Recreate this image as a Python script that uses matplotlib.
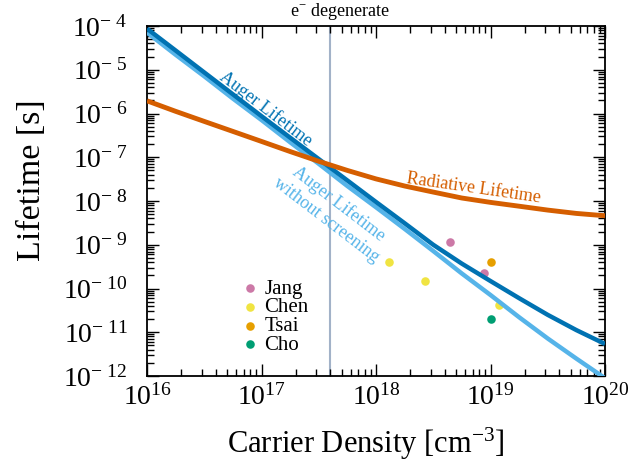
import numpy as np
import matplotlib
matplotlib.use('Agg')
import matplotlib.pyplot as plt
from matplotlib.ticker import FixedLocator, LogLocator, NullFormatter

plt.rcParams['font.family'] = ['Liberation Serif', 'DejaVu Serif']
plt.rcParams['mathtext.fontset'] = 'custom'
plt.rcParams['mathtext.rm'] = 'Liberation Serif'
plt.rcParams['mathtext.it'] = 'Liberation Serif:italic'

# carrier density grid [cm^-3]
density = [1e16, 1.78e16, 3.16e16, 5.62e16, 1e17, 1.78e17, 3.16e17, 5.62e17,
           1e18, 1.78e18, 3.16e18, 5.62e18, 1e19, 1.78e19, 3.16e19, 5.62e19, 1e20]

# lifetimes [s]
auger = [8.7e-5, 2.75e-5, 8.7e-6, 2.75e-6, 8.7e-7, 2.8e-7, 9.1e-8, 2.95e-8,
         9.5e-9, 3.1e-9, 1.0e-9, 3.7e-10, 1.48e-10, 6.0e-11, 2.5e-11, 1.12e-11, 5.4e-12]
auger_unscreened = [7.1e-5, 2.2e-5, 7.1e-6, 2.2e-6, 7.1e-7, 2.2e-7, 7.1e-8, 2.2e-8,
                    7.2e-9, 2.3e-9, 7.2e-10, 2.2e-10, 7.1e-11, 2.2e-11, 7.2e-12, 2.5e-12, 8.9e-13]
radiative = [1.95e-6, 1.12e-6, 6.6e-7, 3.9e-7, 2.3e-7, 1.35e-7, 8.1e-8, 5.0e-8,
             3.2e-8, 2.2e-8, 1.6e-8, 1.17e-8, 9.3e-9, 7.6e-9, 6.2e-9, 5.2e-9, 4.6e-9]

# measured points
jang_n, jang_t = [4.4e18, 8.8e18], [1.17e-9, 2.3e-10]
chen_n, chen_t = [1.3e18, 2.7e18, 1.19e19], [4.1e-10, 1.5e-10, 4.2e-11]
tsai_n, tsai_t = [1.0e19], [4.0e-10]
cho_n, cho_t = [1.0e19], [2.0e-11]

degenerate_n = 4e17

c_auger = '#0072B2'
c_unscr = '#56B4E9'
c_rad = '#D55E00'

fig = plt.figure(figsize=(6.29, 4.70), dpi=100)
ax = fig.add_axes([147/629, 1-376/470, 458/629, 350/470])

ax.axvline(degenerate_n, color='#A2B2C8', lw=1.5, zorder=1)

ms = 38
ax.scatter(jang_n, jang_t, s=ms, color='#CC79A7', lw=0, label='Jang', zorder=2)
ax.scatter(chen_n, chen_t, s=ms, color='#F0E442', lw=0, label='Chen', zorder=2)
ax.scatter(tsai_n, tsai_t, s=ms, color='#E69F00', lw=0, label='Tsai', zorder=2)
ax.scatter(cho_n, cho_t, s=ms, color='#009E73', lw=0, label='Cho', zorder=2)

ax.plot(density, auger_unscreened, color=c_unscr, lw=3.2, zorder=3, solid_capstyle='butt')
ax.plot(density, auger, color=c_auger, lw=3.2, zorder=4, solid_capstyle='butt')
ax.plot(density, radiative, color=c_rad, lw=3.5, zorder=5, solid_capstyle='butt')

ax.set_xscale('log')
ax.set_yscale('log')
ax.set_xlim(1e16, 1e20)
ax.set_ylim(1e-12, 1e-4)

ax.xaxis.set_major_locator(FixedLocator([1e16, 1e17, 1e18, 1e19, 1e20]))
ax.set_xticklabels([r'$10^{%d}$' % k for k in range(16, 21)])
ax.yaxis.set_major_locator(FixedLocator([10.0**-k for k in range(4, 13)]))
ax.set_yticklabels([r'$10^{-\ %d}$' % k for k in range(4, 13)])
ax.xaxis.set_minor_locator(LogLocator(base=10, subs=np.arange(2, 10), numticks=20))
ax.yaxis.set_minor_locator(LogLocator(base=10, subs=np.arange(2, 10), numticks=20))
ax.xaxis.set_minor_formatter(NullFormatter())
ax.yaxis.set_minor_formatter(NullFormatter())

ax.tick_params(which='both', direction='in', top=True, right=True, width=1.0)
ax.tick_params(which='major', length=8.5, labelsize=20)
ax.tick_params(which='minor', length=5)
ax.tick_params(axis='x', which='major', pad=6)
ax.tick_params(axis='y', which='major', pad=14)
for sp in ax.spines.values():
    sp.set_linewidth(1.3)

ax.set_xlabel(r'Carrier Density [cm$^{\mathregular{-3}}$]', fontsize=22)
ax.set_ylabel('Lifetime [s]', fontsize=24.5)
ax.xaxis.set_label_coords(0.477, -0.143)
ax.yaxis.set_label_coords(-0.218, 0.56)

ax.text(4.8e17, 1.028, r'e$^{-}$ degenerate', transform=ax.get_xaxis_transform(),
        ha='center', va='baseline', fontsize=13)

ax.text(1.08e17, 1.26e-6, 'Auger Lifetime', color=c_auger, fontsize=13,
        rotation=-37.4, ha='center', va='center', rotation_mode='anchor')
ax.text(4.2e17, 5.6e-9, 'Auger Lifetime\nwithout screening', color=c_unscr, fontsize=13,
        rotation=-37.4, ha='center', va='center', rotation_mode='anchor',
        multialignment='center', linespacing=1.3)
ax.text(7.1e18, 2.0e-8, 'Radiative Lifetime', color=c_rad, fontsize=13,
        rotation=-8.3, ha='center', va='center', rotation_mode='anchor')

ax.legend(loc='center', bbox_to_anchor=(0.28, 0.169), frameon=False, fontsize=15,
          handlelength=0.8, handletextpad=0.3, labelspacing=-0.04, borderpad=0)

fig.savefig('out.png', dpi=100)
